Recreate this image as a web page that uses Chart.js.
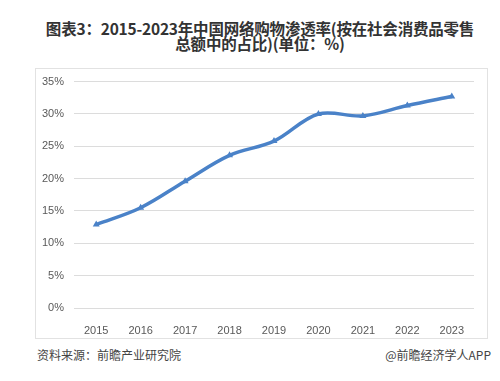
<!DOCTYPE html>
<html>
<head>
<meta charset="utf-8">
<script src="https://cdn.jsdelivr.net/npm/chart.js@4/dist/chart.umd.min.js"></script>
<style>
  body { margin: 0; background: #fff; font-family: "Noto Sans CJK SC", sans-serif; }
  #page { position: relative; width: 500px; height: 381px; overflow: hidden; }
  .title { position: absolute; left: 0; top: 21px; width: 520px; text-align: center;
           font-size: 15.5px; font-weight: bold; color: #333; line-height: 15px; letter-spacing: -0.2px; }
  .frame { position: absolute; left: 35px; top: 68px; width: 451px; height: 269px; border: 1px solid #e2e2e2; }
  .frame canvas { position: absolute; left: 0; top: -4px; }
  .src { position: absolute; left: 37px; top: 346px; font-size: 12px; color: #444; }
  .app { position: absolute; right: 9px; top: 346px; font-size: 12px; color: #444; }
</style>
</head>
<body>
<div id="page">
  <div class="title">图表3：2015-2023年中国网络购物渗透率(按在社会消费品零售<br>总额中的占比)(单位：%)</div>
  <div class="frame"><canvas id="c" width="451" height="273"></canvas></div>
  <div class="src">资料来源：前瞻产业研究院</div>
  <div class="app">@前瞻经济学人APP</div>
</div>
<script>
// 年份 和 渗透率(%)
const years = ['2015', '2016', '2017', '2018', '2019', '2020', '2021', '2022', '2023'];
const penetration = [12.9, 15.5, 19.6, 23.6, 25.8, 30.0, 29.7, 31.3, 32.7];
const yTicks = [0, 5, 10, 15, 20, 25, 30, 35];

const lineColor = '#4a82c8';

new Chart(document.getElementById('c'), {
    type: 'line',
    data: {
        labels: years,
        datasets: [{
            data: penetration,
            borderColor: lineColor,
            backgroundColor: lineColor,
            borderWidth: 3.5,
            tension: 0.35,
            pointStyle: 'triangle',
            pointRadius: 4,
            pointBorderWidth: 0,
        }],
    },
    options: {
        responsive: false,
        animation: false,
        layout: { padding: { left: 0, right: 13, top: 4, bottom: 0 } },
        plugins: { legend: { display: false }, tooltip: { enabled: false } },
        scales: {
            x: {
                offset: true,
                grid: { display: false },
                border: { display: false },
                ticks: { color: '#595959', font: { size: 11, family: 'Liberation Sans' }, padding: 8, maxRotation: 0 },
                afterFit: (s) => { s.height = 30; },
            },
            y: {
                min: 0,
                max: 35,
                afterBuildTicks: (s) => { s.ticks = yTicks.map(v => ({ value: v })); },
                grid: { color: '#dcdcdc', drawTicks: false },
                border: { display: false },
                ticks: {
                    color: '#595959',
                    font: { size: 11, family: 'Liberation Sans' },
                    padding: 10,
                    callback: (v) => v + '%',
                },
                afterFit: (s) => { s.width = 38; },
            },
        },
    },
});
</script>
</body>
</html>
